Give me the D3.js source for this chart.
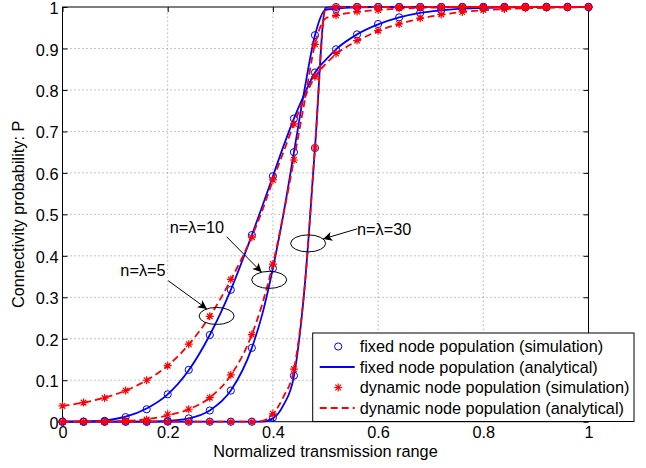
<!DOCTYPE html>
<html>
<head>
<meta charset="utf-8">
<script src="https://cdn.jsdelivr.net/npm/d3@7"></script>
<style>
  html, body { margin: 0; padding: 0; background: #fff; }
  svg { display: block; font-family: "Liberation Sans", Arial, Helvetica, sans-serif; }
</style>
</head>
<body>
<svg id="chart" width="646" height="468"></svg>
<script>
// Normalized transmission range at which the simulations were run
const simX = [0, 0.04, 0.08, 0.12, 0.16, 0.2, 0.24, 0.28, 0.32, 0.36, 0.4, 0.44, 0.48,
              0.52, 0.56, 0.6, 0.64, 0.68, 0.72, 0.76, 0.8, 0.84, 0.88, 0.92, 0.96, 1];

// Simulated connectivity probability, fixed node population
const fixedSim5  = [0, 0, 0.002, 0.011, 0.03, 0.066, 0.125, 0.209, 0.318, 0.45, 0.592, 0.731, 0.842,
                    0.898, 0.934, 0.959, 0.975, 0.986, 0.992, 0.996, 0.998, 0.999, 1, 1, 1, 1];
const fixedSim10 = [0, 0, 0, 0, 0, 0.002, 0.008, 0.027, 0.075, 0.178, 0.37, 0.65, 0.932,
                    0.995, 1, 1, 1, 1, 1, 1, 1, 1, 1, 1, 1, 1];
const fixedSim30 = [0, 0, 0, 0, 0, 0, 0, 0, 0, 0, 0.01, 0.111, 0.66,
                    1, 1, 1, 1, 1, 1, 1, 1, 1, 1, 1, 1, 1];

// Simulated connectivity probability, dynamic node population
const dynSim5  = [0.038, 0.046, 0.057, 0.075, 0.1, 0.135, 0.187, 0.254, 0.343, 0.445, 0.583, 0.718, 0.832,
                  0.888, 0.919, 0.943, 0.959, 0.973, 0.982, 0.988, 0.993, 0.995, 0.997, 0.998, 0.999, 1];
const dynSim10 = [0, 0, 0, 0.003, 0.005, 0.018, 0.03, 0.058, 0.113, 0.21, 0.38, 0.631, 0.91,
                  0.98, 0.989, 0.993, 0.997, 0.998, 0.999, 1, 1, 1, 1, 1, 1, 1];
const dynSim30 = [0, 0, 0, 0, 0, 0, 0, 0, 0, 0, 0.019, 0.127, 0.66,
                  1, 1, 1, 1, 1, 1, 1, 1, 1, 1, 1, 1, 1];

// Ranges at which the analytical expressions are evaluated (denser around the transition)
const anaX = [0, 0.04, 0.08, 0.12, 0.16, 0.2, 0.24, 0.28, 0.32, 0.36,
              0.38, 0.4, 0.42, 0.44, 0.46, 0.48, 0.5, 0.52,
              0.56, 0.6, 0.64, 0.68, 0.72, 0.76, 0.8, 0.84, 0.88, 0.92, 0.96, 1];

// Analytical connectivity probability, fixed node population
const fixedAna5  = [0, 0.0003, 0.003, 0.012, 0.032, 0.066, 0.124, 0.209, 0.318, 0.45,
                    0.52, 0.592, 0.664, 0.731, 0.79, 0.842, 0.872, 0.898,
                    0.934, 0.958, 0.975, 0.986, 0.992, 0.996, 0.998, 0.999, 1, 1, 1, 1];
const fixedAna10 = [0, 0, 0, 0, 0, 0.002, 0.008, 0.027, 0.075, 0.178,
                    0.26, 0.37, 0.5, 0.65, 0.8, 0.932, 0.993, 0.996,
                    0.999, 1, 1, 1, 1, 1, 1, 1, 1, 1, 1, 1];
const fixedAna30 = [0, 0, 0, 0, 0, 0, 0, 0, 0, 0,
                    0.0005, 0.008, 0.04, 0.11, 0.32, 0.66, 0.998, 1,
                    1, 1, 1, 1, 1, 1, 1, 1, 1, 1, 1, 1];

// Analytical connectivity probability, dynamic node population
const dynAna5  = [0.038, 0.046, 0.058, 0.075, 0.1, 0.135, 0.186, 0.254, 0.342, 0.447,
                  0.51, 0.582, 0.65, 0.718, 0.78, 0.832, 0.862, 0.886,
                  0.918, 0.942, 0.959, 0.972, 0.981, 0.988, 0.992, 0.995, 0.997, 0.998, 0.999, 1];
const dynAna10 = [0, 0, 0.001, 0.002, 0.006, 0.015, 0.03, 0.058, 0.112, 0.21,
                  0.285, 0.38, 0.5, 0.632, 0.77, 0.91, 0.972, 0.98,
                  0.988, 0.993, 0.996, 0.998, 0.999, 1, 1, 1, 1, 1, 1, 1];
const dynAna30 = [0, 0, 0, 0, 0, 0, 0, 0, 0, 0,
                  0.002, 0.018, 0.06, 0.126, 0.32, 0.66, 0.995, 0.999,
                  1, 1, 1, 1, 1, 1, 1, 1, 1, 1, 1, 1];

const xTicks = [0, 0.2, 0.4, 0.6, 0.8, 1];
const yTicks = [0, 0.1, 0.2, 0.3, 0.4, 0.5, 0.6, 0.7, 0.8, 0.9, 1];

const legendLabels = [
  "fixed node population (simulation)",
  "fixed node population (analytical)",
  "dynamic node population (simulation)",
  "dynamic node population (analytical)"
];

// Curve annotations: label, label anchor, arrow tail, ellipse (centre in data units)
const annotations = [
  { text: "n=\u03bb=5",  cx: 0.293, cy: 0.255, tx: 0.110, ty: 0.352, ax: 0.201, ay: 0.340 },
  { text: "n=\u03bb=10", cx: 0.393, cy: 0.342, tx: 0.204, ty: 0.455, ax: 0.312, ay: 0.446 },
  { text: "n=\u03bb=30", cx: 0.467, cy: 0.430, tx: 0.560, ty: 0.450, ax: 0.560, ay: 0.465 }
];

const BLUE = "#0000ff", RED = "#ff0000";
const FONT = 16.3;

const svg = d3.select("#chart");
const margin = { left: 62.5, right: 57.5, top: 7, bottom: 46.3 };
const W = 646, H = 468;

const x = d3.scaleLinear().domain([0, 1]).range([margin.left, W - margin.right]);
const y = d3.scaleLinear().domain([0, 1]).range([H - margin.bottom, margin.top]);

// Grid
const grid = svg.append("g").attr("stroke", "#8a8a8a").attr("stroke-width", 1)
  .attr("stroke-dasharray", "1,3");
xTicks.slice(1, -1).forEach(t => {
  grid.append("line").attr("x1", x(t)).attr("x2", x(t)).attr("y1", y(0)).attr("y2", y(1));
});
yTicks.slice(1, -1).forEach(t => {
  grid.append("line").attr("x1", x(0)).attr("x2", x(1)).attr("y1", y(t)).attr("y2", y(t));
});

// Axes with inward ticks on all four sides
const tickLen = 5;
const axisStyle = g => {
  g.select(".domain").remove();
  g.selectAll(".tick line").attr("stroke", "#000");
  g.selectAll(".tick text").attr("fill", "#000").attr("font-size", FONT)
    .attr("font-family", "Liberation Sans, Arial, sans-serif");
};
svg.append("g").attr("transform", `translate(0,${y(0)})`)
  .call(d3.axisBottom(x).tickValues(xTicks).tickFormat(d3.format("")).tickSize(-tickLen).tickPadding(5))
  .call(axisStyle);
svg.append("g").attr("transform", `translate(0,${y(1)})`)
  .call(d3.axisTop(x).tickValues(xTicks).tickFormat("").tickSize(-tickLen))
  .call(axisStyle);
svg.append("g").attr("transform", `translate(${x(0)},0)`)
  .call(d3.axisLeft(y).tickValues(yTicks).tickFormat(d3.format("")).tickSize(-tickLen).tickPadding(4))
  .call(axisStyle)
  .call(g => g.selectAll(".tick text").attr("dy", "0.4em"));
svg.append("g").attr("transform", `translate(${x(1)},0)`)
  .call(d3.axisRight(y).tickValues(yTicks).tickFormat("").tickSize(-tickLen))
  .call(axisStyle);

// Plot box
svg.append("rect").attr("x", x(0)).attr("y", y(1))
  .attr("width", x(1) - x(0)).attr("height", y(0) - y(1))
  .attr("fill", "none").attr("stroke", "#000").attr("stroke-width", 1);

// Axis titles
svg.append("text").attr("x", (x(0) + x(1)) / 2).attr("y", 457)
  .attr("text-anchor", "middle").attr("font-size", FONT).text("Normalized transmission range");
svg.append("text").attr("transform", `translate(24,${(y(0) + y(1)) / 2}) rotate(-90)`)
  .attr("text-anchor", "middle").attr("font-size", FONT).text("Connectivity probability: P");

// Marker shapes
const starPath = r => {
  const d = r * Math.SQRT1_2;
  return `M${-r},0L${r},0M0,${-r}L0,${r}M${-d},${-d}L${d},${d}M${-d},${d}L${d},${-d}`;
};

const line = d3.line().x(d => x(d[0])).y(d => y(d[1])).curve(d3.curveMonotoneX);
const plot = svg.append("g");

const fixedSims = [fixedSim5, fixedSim10, fixedSim30];
const fixedAnas = [fixedAna5, fixedAna10, fixedAna30];
const dynSims = [dynSim5, dynSim10, dynSim30];
const dynAnas = [dynAna5, dynAna10, dynAna30];

// Fixed population: circles then analytical solid curve
fixedSims.forEach((vals, i) => {
  plot.append("g").selectAll("circle").data(simX.map((v, k) => [v, vals[k]])).join("circle")
    .attr("cx", d => x(d[0])).attr("cy", d => y(d[1])).attr("r", 3.6)
    .attr("fill", "none").attr("stroke", BLUE).attr("stroke-width", 1);
  plot.append("path").datum(anaX.map((v, k) => [v, fixedAnas[i][k]]))
    .attr("d", line).attr("fill", "none").attr("stroke", BLUE).attr("stroke-width", 1.8);
});

// Dynamic population: asterisks then analytical dashed curve
dynSims.forEach((vals, i) => {
  plot.append("g").selectAll("path").data(simX.map((v, k) => [v, vals[k]])).join("path")
    .attr("transform", d => `translate(${x(d[0])},${y(d[1])})`)
    .attr("d", starPath(4)).attr("fill", "none").attr("stroke", RED).attr("stroke-width", 1.2);
  plot.append("path").datum(anaX.map((v, k) => [v, dynAnas[i][k]]))
    .attr("d", line).attr("fill", "none").attr("stroke", RED).attr("stroke-width", 1.8)
    .attr("stroke-dasharray", "7,4");
});

// Annotations
svg.append("defs").append("marker").attr("id", "arrowhead")
  .attr("viewBox", "0 0 10 10").attr("refX", 10).attr("refY", 5)
  .attr("markerWidth", 13).attr("markerHeight", 9).attr("markerUnits", "userSpaceOnUse")
  .attr("orient", "auto")
  .append("path").attr("d", "M0,0L10,5L0,10L2.5,5Z").attr("fill", "#000");

const ann = svg.append("g");
annotations.forEach(a => {
  const ex = x(a.cx), ey = y(a.cy), rx = 17.5, ry = 8.5;
  ann.append("ellipse").attr("cx", ex).attr("cy", ey).attr("rx", rx).attr("ry", ry)
    .attr("fill", "none").attr("stroke", "#000").attr("stroke-width", 1);
  // arrow tip lands on the ellipse outline, pointing towards its centre
  const sx = x(a.ax), sy = y(a.ay);
  const dx = ex - sx, dy = ey - sy;
  const t = 1 / Math.sqrt((dx * dx) / (rx * rx) + (dy * dy) / (ry * ry));
  ann.append("line").attr("x1", sx).attr("y1", sy)
    .attr("x2", ex - dx * t).attr("y2", ey - dy * t)
    .attr("stroke", "#000").attr("stroke-width", 1).attr("marker-end", "url(#arrowhead)");
  ann.append("text").attr("x", x(a.tx)).attr("y", y(a.ty)).attr("font-size", FONT).text(a.text);
});

// Legend
const lg = svg.append("g");
const lgX = 312.7, lgY = 333, lgW = 321.3, lgH = 88.5, rowH = 20.5;
lg.append("rect").attr("x", lgX).attr("y", lgY).attr("width", lgW).attr("height", lgH)
  .attr("fill", "#fff").attr("stroke", "#000").attr("stroke-width", 1);
legendLabels.forEach((label, i) => {
  const cy = lgY + 13.5 + i * rowH;
  const sx1 = lgX + 7, sx2 = lgX + 42, mx = (sx1 + sx2) / 2 + 1;
  if (i === 0) {
    lg.append("circle").attr("cx", mx).attr("cy", cy).attr("r", 3.6)
      .attr("fill", "none").attr("stroke", BLUE).attr("stroke-width", 1);
  } else if (i === 1) {
    lg.append("line").attr("x1", sx1).attr("x2", sx2).attr("y1", cy).attr("y2", cy)
      .attr("stroke", BLUE).attr("stroke-width", 1.8);
  } else if (i === 2) {
    lg.append("path").attr("transform", `translate(${mx},${cy})`).attr("d", starPath(4))
      .attr("fill", "none").attr("stroke", RED).attr("stroke-width", 1.2);
  } else {
    lg.append("line").attr("x1", sx1).attr("x2", sx2).attr("y1", cy).attr("y2", cy)
      .attr("stroke", RED).attr("stroke-width", 1.8).attr("stroke-dasharray", "7,4");
  }
  lg.append("text").attr("x", lgX + 47).attr("y", cy + 5.5).attr("font-size", FONT).text(label);
});
</script>
</body>
</html>
